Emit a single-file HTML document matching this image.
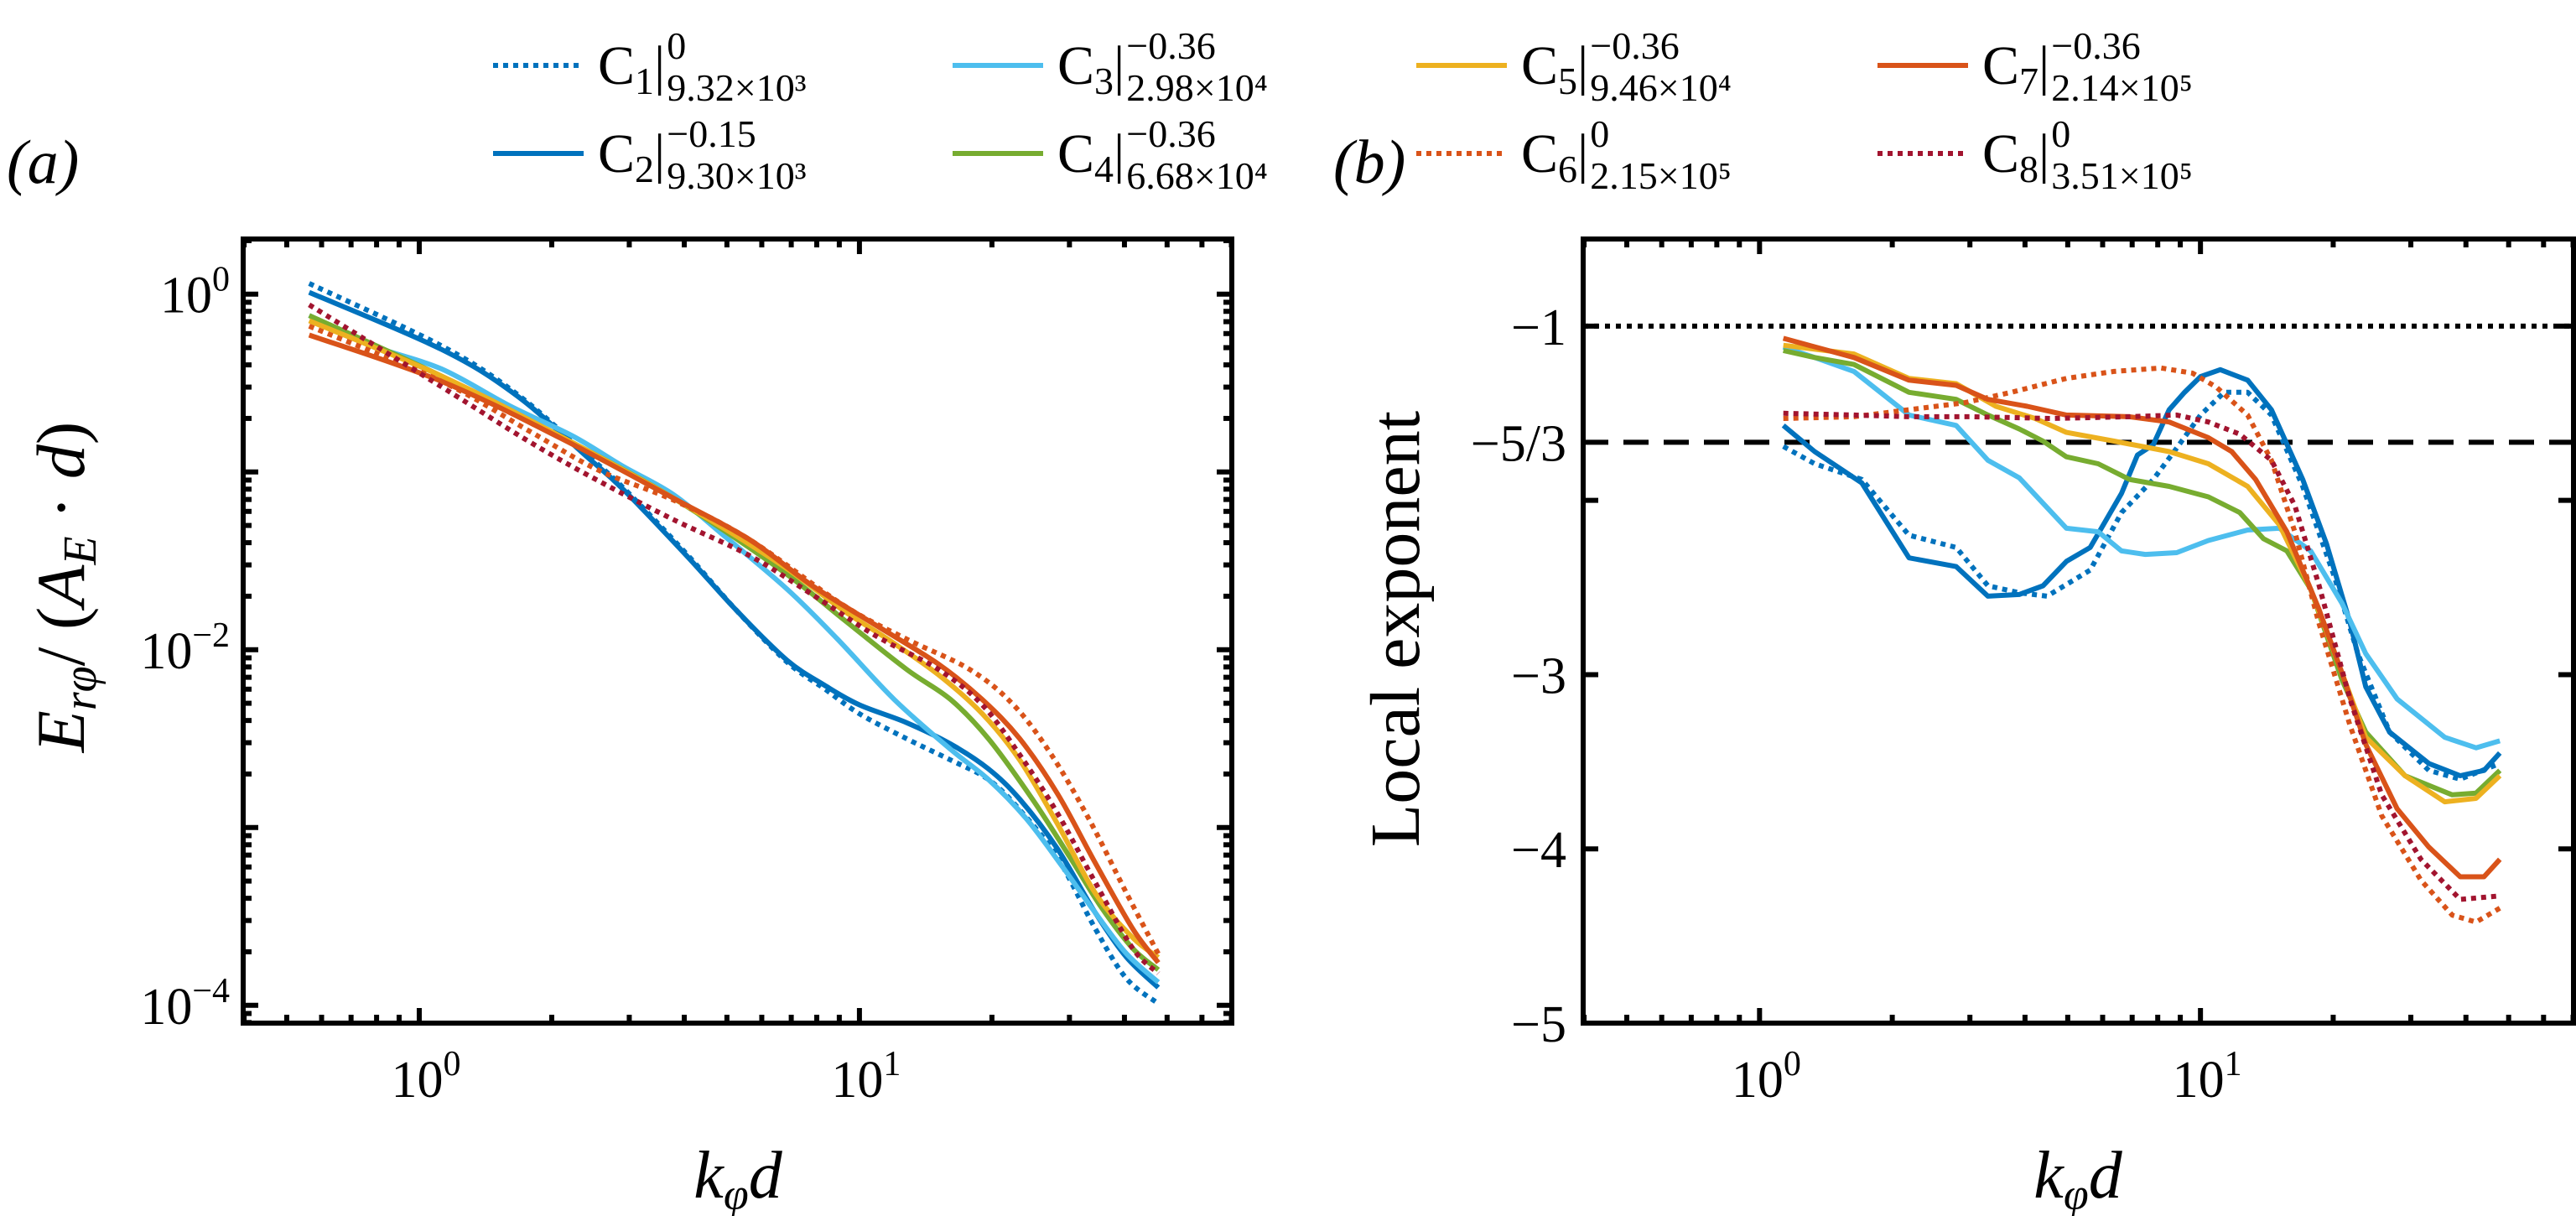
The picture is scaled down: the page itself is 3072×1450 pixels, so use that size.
<!DOCTYPE html>
<html><head><meta charset="utf-8">
<style>
html,body{margin:0;padding:0;background:#fff;}
body{width:3072px;height:1450px;position:relative;overflow:hidden;font-family:"Liberation Serif",serif;}
</style></head>
<body>
<svg id="chart" width="3072" height="1450" style="position:absolute;left:0;top:0" font-family="Liberation Serif, serif"></svg>
<script>
// ---------- legend ----------
const legNames=['C1','C2','C3','C4','C5','C6','C7','C8'];
const legSup=['0','−0.15','−0.36','−0.36','−0.36','0','−0.36','0'];
const legSub=['9.32×10³','9.30×10³','2.98×10⁴','6.68×10⁴','9.46×10⁴','2.15×10⁵','2.14×10⁵','3.51×10⁵'];
const colors=['#0072BD','#0072BD','#4DBEEE','#77AC30','#EDB120','#D95319','#D95319','#A2142F'];
const dotted=[true,false,false,false,false,true,false,true];

// ---------- panel (a) data: log10(k d) and log10(E) ----------
const aX=[
[-0.25,0.05,0.221,0.379,0.464,0.607,0.721,0.836,0.921,1.0,1.107,1.207,1.293,1.364,1.45,1.536,1.607,1.679],
[-0.25,0.05,0.221,0.379,0.464,0.607,0.721,0.836,0.921,1.0,1.107,1.207,1.293,1.364,1.45,1.536,1.607,1.679],
[-0.25,-0.107,0.05,0.207,0.35,0.464,0.579,0.693,0.836,0.95,1.079,1.207,1.293,1.379,1.464,1.536,1.607,1.679],
[-0.25,0.05,0.321,0.579,0.821,0.964,1.107,1.207,1.293,1.393,1.479,1.55,1.621,1.679],
[-0.25,0.05,0.321,0.579,0.821,0.964,1.064,1.179,1.279,1.364,1.45,1.536,1.621,1.679],
[-0.25,0.05,0.25,0.407,0.579,0.75,0.964,1.107,1.25,1.35,1.436,1.521,1.607,1.679],
[-0.25,0.05,0.321,0.579,0.75,0.893,1.036,1.179,1.279,1.364,1.45,1.536,1.621,1.679],
[-0.25,0.05,0.25,0.407,0.579,0.75,0.893,1.036,1.179,1.279,1.364,1.45,1.536,1.621,1.679]];
const aY=[
[0.06,-0.29,-0.56,-0.9,-1.09,-1.46,-1.78,-2.07,-2.22,-2.36,-2.5,-2.62,-2.73,-2.9,-3.17,-3.57,-3.85,-3.99],
[0.01,-0.31,-0.57,-0.91,-1.1,-1.47,-1.78,-2.06,-2.2,-2.31,-2.41,-2.53,-2.67,-2.84,-3.12,-3.48,-3.73,-3.9],
[-0.12,-0.29,-0.42,-0.63,-0.8,-0.97,-1.13,-1.36,-1.66,-1.94,-2.28,-2.56,-2.73,-2.95,-3.23,-3.48,-3.71,-3.87],
[-0.12,-0.46,-0.8,-1.15,-1.55,-1.83,-2.11,-2.28,-2.5,-2.84,-3.17,-3.45,-3.68,-3.8],
[-0.15,-0.46,-0.8,-1.15,-1.52,-1.78,-1.94,-2.14,-2.36,-2.62,-2.98,-3.37,-3.62,-3.73],
[-0.18,-0.49,-0.77,-0.99,-1.16,-1.38,-1.75,-1.94,-2.11,-2.31,-2.59,-2.95,-3.37,-3.71],
[-0.23,-0.49,-0.81,-1.15,-1.38,-1.64,-1.86,-2.08,-2.28,-2.5,-2.81,-3.2,-3.57,-3.76],
[-0.06,-0.52,-0.83,-1.05,-1.27,-1.47,-1.69,-1.92,-2.11,-2.31,-2.59,-2.92,-3.31,-3.68,-3.82]];

// ---------- panel (b) data: log10(k d) and local exponent ----------
const bX=[
[0.054,0.125,0.232,0.339,0.446,0.518,0.589,0.652,0.75,0.821,0.893,0.946,1.0,1.054,1.107,1.161,1.232,1.304,1.357,1.429,1.518,1.589,1.679],
[0.054,0.125,0.232,0.339,0.446,0.518,0.589,0.643,0.696,0.75,0.821,0.857,0.893,0.929,0.964,1.0,1.045,1.107,1.161,1.232,1.286,1.339,1.375,1.429,1.518,1.589,1.643,1.679],
[0.054,0.125,0.214,0.339,0.446,0.518,0.589,0.696,0.768,0.821,0.875,0.946,1.018,1.107,1.179,1.25,1.321,1.375,1.446,1.554,1.625,1.679],
[0.054,0.125,0.214,0.339,0.446,0.518,0.589,0.643,0.696,0.768,0.839,0.929,1.018,1.089,1.143,1.196,1.25,1.321,1.375,1.464,1.571,1.625,1.679],
[0.054,0.214,0.339,0.446,0.536,0.625,0.696,0.804,0.929,1.018,1.107,1.179,1.25,1.321,1.375,1.464,1.554,1.625,1.679],
[0.054,0.214,0.339,0.464,0.571,0.696,0.804,0.911,0.982,1.036,1.107,1.161,1.214,1.268,1.339,1.411,1.5,1.571,1.625,1.679],
[0.054,0.214,0.339,0.446,0.518,0.607,0.696,0.839,0.929,1.018,1.071,1.125,1.196,1.268,1.321,1.375,1.446,1.518,1.589,1.643,1.679],
[0.054,0.214,0.339,0.482,0.661,0.839,0.946,1.018,1.089,1.161,1.214,1.268,1.339,1.411,1.5,1.589,1.679]];
const bY=[
[-1.69,-1.79,-1.88,-2.2,-2.27,-2.49,-2.53,-2.55,-2.4,-2.07,-1.88,-1.7,-1.51,-1.38,-1.38,-1.51,-1.92,-2.44,-2.88,-3.33,-3.55,-3.6,-3.51],
[-1.57,-1.72,-1.9,-2.33,-2.38,-2.55,-2.54,-2.49,-2.35,-2.27,-1.96,-1.74,-1.68,-1.48,-1.38,-1.29,-1.25,-1.31,-1.48,-1.88,-2.25,-2.7,-3.07,-3.33,-3.51,-3.58,-3.55,-3.45],
[-1.12,-1.18,-1.26,-1.51,-1.57,-1.77,-1.87,-2.16,-2.18,-2.29,-2.31,-2.3,-2.23,-2.17,-2.16,-2.29,-2.59,-2.88,-3.14,-3.36,-3.42,-3.38],
[-1.14,-1.18,-1.22,-1.38,-1.42,-1.51,-1.59,-1.66,-1.75,-1.79,-1.88,-1.92,-1.98,-2.07,-2.22,-2.29,-2.51,-3.03,-3.33,-3.58,-3.69,-3.68,-3.55],
[-1.11,-1.16,-1.3,-1.33,-1.46,-1.53,-1.61,-1.66,-1.72,-1.79,-1.92,-2.14,-2.51,-2.99,-3.36,-3.58,-3.73,-3.71,-3.58],
[-1.53,-1.52,-1.48,-1.44,-1.38,-1.3,-1.26,-1.24,-1.27,-1.35,-1.51,-1.77,-2.18,-2.7,-3.29,-3.81,-4.18,-4.38,-4.42,-4.34],
[-1.07,-1.18,-1.31,-1.34,-1.42,-1.46,-1.51,-1.52,-1.55,-1.64,-1.72,-1.88,-2.18,-2.62,-2.99,-3.4,-3.77,-3.99,-4.16,-4.16,-4.06],
[-1.5,-1.51,-1.52,-1.52,-1.53,-1.52,-1.51,-1.55,-1.62,-1.77,-2.03,-2.48,-3.14,-3.69,-4.06,-4.29,-4.27]];

const xTickVals=[0,1];
const xTickLabels=['0','1'];
const aTickVals=[0,-2,-4];
const aTickLabels=['0','−2','−4'];
const bTickVals=[-1,-5/3,-3,-4,-5];
const bTickLabels=['−1','−5/3','−3','−4','−5'];

const NS='http://www.w3.org/2000/svg';
const svg=document.getElementById('chart');
function mk(tag,attrs,parent){const e=document.createElementNS(NS,tag);for(const k in attrs)e.setAttribute(k,attrs[k]);(parent||svg).appendChild(e);return e;}

const PA={l:290,r:1469,t:285,b:1220,ymin:-4.1,ymax:0.31};
const PB={l:1888,r:3069,t:285,b:1220,ymin:-5,ymax:-0.5};
const XMIN=-0.4,XMAX=1.846;
function sx(P,v){return P.l+(v-XMIN)/(XMAX-XMIN)*(P.r-P.l);}
function sy(P,v){return P.b-(v-P.ymin)/(P.ymax-P.ymin)*(P.b-P.t);}

function smoothPath(pts){
  let d='M'+pts[0][0].toFixed(1)+','+pts[0][1].toFixed(1);
  for(let i=0;i<pts.length-1;i++){
    const p0=pts[Math.max(0,i-1)],p1=pts[i],p2=pts[i+1],p3=pts[Math.min(pts.length-1,i+2)];
    const c1x=p1[0]+(p2[0]-p0[0])/6,c1y=p1[1]+(p2[1]-p0[1])/6;
    const c2x=p2[0]-(p3[0]-p1[0])/6,c2y=p2[1]-(p3[1]-p1[1])/6;
    d+='C'+c1x.toFixed(1)+','+c1y.toFixed(1)+' '+c2x.toFixed(1)+','+c2y.toFixed(1)+' '+p2[0].toFixed(1)+','+p2[1].toFixed(1);
  }
  return d;
}
function series(P,X,Y,i,panel,smooth){
  const pts=X[i].map((x,j)=>[sx(P,x),sy(P,Y[i][j])]);
  let d;
  if(smooth)d=smoothPath(pts);
  else d=pts.map((p,j)=>(j?'L':'M')+p[0].toFixed(1)+','+p[1].toFixed(1)).join('');
  const p=mk('path',{d:d,fill:'none',stroke:colors[i],'stroke-width':6,'stroke-linejoin':'round'});
  if(dotted[i])p.setAttribute('stroke-dasharray','6,6');
  
  
}

function frame(P,panel){
  const g=mk('g',{});
  
  
  for(let dec=-1;dec<=1;dec++){
    for(let m=1;m<10;m++){
      const v=dec+Math.log10(m);
      if(v<XMIN||v>XMAX)continue;
      const L=m==1?18:10;const x=sx(P,v);
      mk('line',{x1:x,x2:x,y1:P.b,y2:P.b-L,stroke:'#000','stroke-width':6},g);
      mk('line',{x1:x,x2:x,y1:P.t,y2:P.t+L,stroke:'#000','stroke-width':6},g);
    }
  }
  mk('rect',{x:P.l,y:P.t,width:P.r-P.l,height:P.b-P.t,fill:'none',stroke:'#000','stroke-width':6},g);
}
frame(PA,'panel-a');
frame(PB,'panel-b');

for(let dec=-5;dec<=0;dec++){
  for(let m=1;m<10;m++){
    const v=dec+Math.log10(m);
    if(v<PA.ymin||v>PA.ymax)continue;
    const L=m==1?18:10;const y=sy(PA,v);
    mk('line',{x1:PA.l,x2:PA.l+L,y1:y,y2:y,stroke:'#000','stroke-width':6});
    mk('line',{x1:PA.r,x2:PA.r-L,y1:y,y2:y,stroke:'#000','stroke-width':6});
  }
}
for(let v=-5;v<=-1;v++){
  const y=sy(PB,v);
  mk('line',{x1:PB.l,x2:PB.l+18,y1:y,y2:y,stroke:'#000','stroke-width':6});
  mk('line',{x1:PB.r,x2:PB.r-18,y1:y,y2:y,stroke:'#000','stroke-width':6});
}
const r1=mk('line',{x1:PB.l,x2:PB.r,y1:sy(PB,-1),y2:sy(PB,-1),stroke:'#000','stroke-width':6,'stroke-dasharray':'6,7'});


const r2=mk('line',{x1:PB.l,x2:PB.r,y1:sy(PB,-5/3),y2:sy(PB,-5/3),stroke:'#000','stroke-width':6,'stroke-dasharray':'30,18'});



for(let i=0;i<8;i++)series(PA,aX,aY,i,'panel-a',true);
for(let i=0;i<8;i++)series(PB,bX,bY,i,'panel-b',false);

function txt(x,y,s,attrs,name){const t=mk('text',Object.assign({x:x,y:y,'font-size':62},attrs||{}));t.textContent=s;return t;}
function powLabel(x,y,exp,anchor,name){
  const t=mk('text',{x:x,y:y,'font-size':62,'text-anchor':anchor});
  
  
  const a=mk('tspan',{},t);a.textContent='10';
  const b=mk('tspan',{dy:-26,'font-size':42},t);b.textContent=exp;
}
[PA,PB].forEach((P,k)=>{
  xTickVals.forEach((v,i)=>powLabel(sx(P,v)+8,1308,xTickLabels[i],'middle',(k?'panel-b':'panel-a')+'-x-tick-label'));
});
aTickVals.forEach((v,i)=>powLabel(274,sy(PA,v)+22,aTickLabels[i],'end','panel-a-y-tick-label'));
bTickVals.forEach((v,i)=>txt(1868,sy(PB,v)+22,bTickLabels[i],{'text-anchor':'end'},'panel-b-y-tick-label'));

function xt(cx,name){
  const t=mk('text',{x:cx,y:1428,'font-size':80,'font-style':'italic','text-anchor':'middle'});
  
  const a=mk('tspan',{},t);a.textContent='k';
  const b=mk('tspan',{dy:14,'font-size':54},t);b.textContent='φ';
  const c=mk('tspan',{dy:-14},t);c.textContent='d';
}
xt(880,'panel-a-x-axis-title');xt(2478,'panel-b-x-axis-title');
const ya=mk('text',{x:0,y:0,'font-size':82,'text-anchor':'middle',transform:'translate(100,700) rotate(-90)'});

(function(){const a=mk('tspan',{'font-style':'italic'},ya);a.textContent='E';const b=mk('tspan',{dy:14,'font-size':56,'font-style':'italic'},ya);b.textContent='rφ';const c=mk('tspan',{dy:-14},ya);c.textContent='/ (';const d=mk('tspan',{'font-style':'italic'},ya);d.textContent='A';const e=mk('tspan',{dy:14,'font-size':56,'font-style':'italic'},ya);e.textContent='E';const f=mk('tspan',{dy:-14},ya);f.textContent=' · ';const g=mk('tspan',{'font-style':'italic'},ya);g.textContent='d';const h=mk('tspan',{},ya);h.textContent=')';})();
txt(0,0,'Local exponent',{'font-size':84,'text-anchor':'middle',transform:'translate(1692,750) rotate(-90)'},'panel-b-y-axis-title');
txt(8,218,'(a)',{'font-size':74,'font-style':'italic'},'panel-a-label');
txt(1590,218,'(b)',{'font-size':74,'font-style':'italic'},'panel-b-label');

// legend
const lg=mk('g',{});


const colX=[588,1136,1689,2239];const rowY=[78,183];
for(let i=0;i<8;i++){
  const col=Math.floor(i/2),row=i%2;
  const x=colX[col],y=rowY[row];
  const g=mk('g',{},lg);
  
  
  const ln=mk('line',{x1:x,x2:x+108,y1:y,y2:y,stroke:colors[i],'stroke-width':6},g);
  if(dotted[i])ln.setAttribute('stroke-dasharray','6,6');
  const t=mk('text',{x:x+125,y:y+22,'font-size':66},g);
  const a=mk('tspan',{},t);a.textContent='C';
  const b=mk('tspan',{dy:12,'font-size':46},t);b.textContent=legNames[i].slice(1);
  const c=mk('tspan',{dy:-12},t);c.textContent='|';
  const w=t.getComputedTextLength();
  const sx2=x+125+w+2;
  const sp=mk('text',{x:sx2,y:y-8,'font-size':46},g);sp.textContent=legSup[i];
  const sb=mk('text',{x:sx2,y:y+42,'font-size':46},g);sb.textContent=legSub[i];
}
</script>
</body></html>
